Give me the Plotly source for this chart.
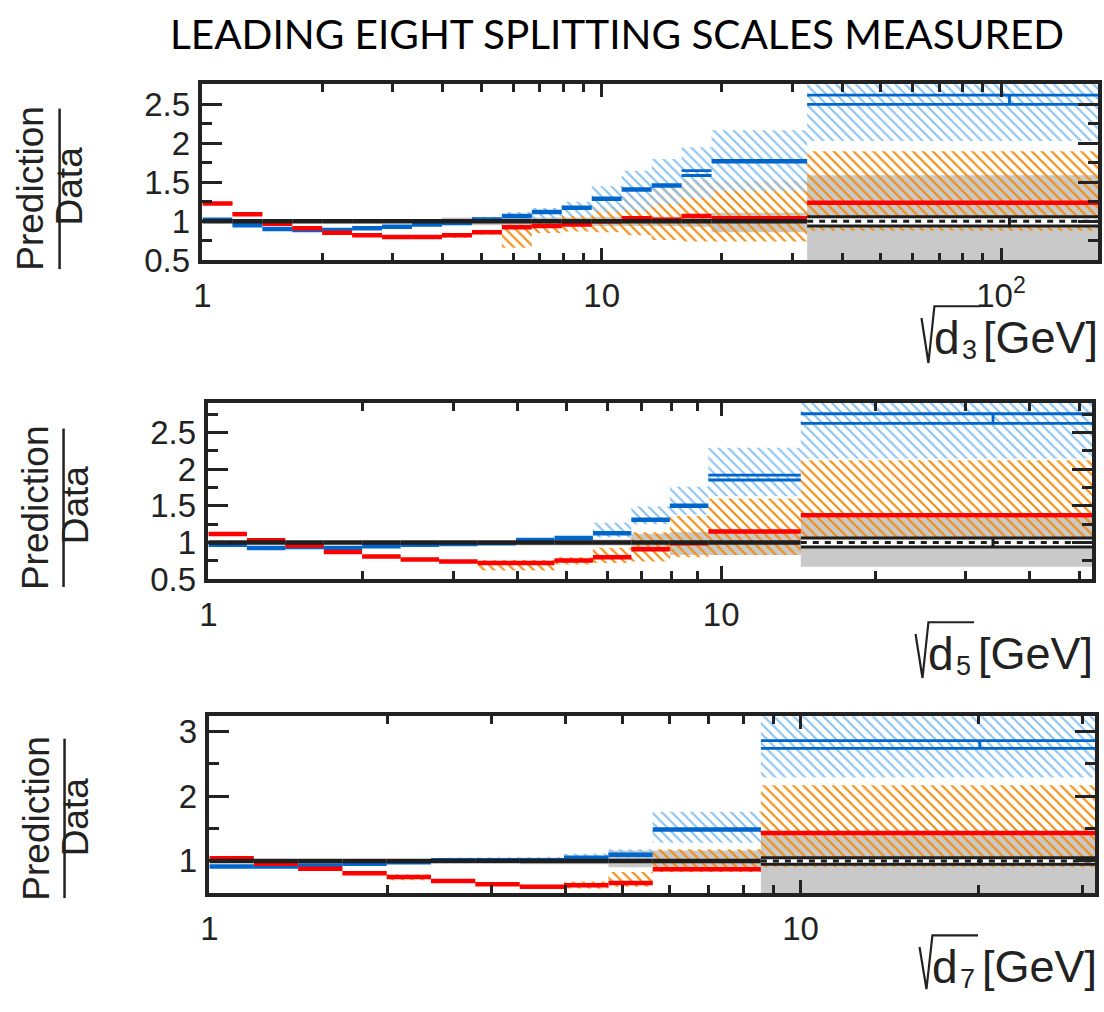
import math
import plotly.graph_objects as go

W, H = 1104, 1012

# ---------------- data ----------------
# Panel 1: sqrt(d3)
d3_edges = [1.000, 1.189, 1.413, 1.679, 1.995, 2.371, 2.818, 3.350, 3.981, 4.732,
            5.623, 6.683, 7.943, 9.441, 11.22, 13.34, 15.85, 18.84, 32.7, 175]
d3_red = [1.23, 1.09, 0.97, 0.91, 0.855, 0.82, 0.80, 0.80, 0.82, 0.86,
          0.925, 0.94, 0.96, 1.00, 1.04, 1.02, 1.07, 1.04, 1.24]
d3_blue = [1.02, 0.95, 0.90, 0.89, 0.89, 0.91, 0.93, 0.96, 0.98, 1.025,
           1.07, 1.12, 1.175, 1.29, 1.41, 1.46, 1.62, 1.77, 2.56]
d3_blue_err = [0, 0, 0, 0, 0, 0, 0, 0, 0, 0, 0, 0, 0, 0, 0, 0, 0.032, 0, 0.06]
d3_data = [1.0] * 19
d3_gray_lo = [0.985, 0.985, 0.985, 0.985, 0.985, 0.985, 0.985, 0.98, 0.95, 0.95,
              0.95, 0.95, 0.95, 0.94, 0.94, 0.94, 0.93, 0.86, 0.40]
d3_gray_hi = [1.015, 1.015, 1.015, 1.015, 1.015, 1.015, 1.015, 1.02, 1.05, 1.05,
              1.05, 1.05, 1.05, 1.06, 1.06, 1.06, 1.07, 1.11, 1.59]
d3_orange_lo = [1.21, 1.07, 0.95, 0.89, 0.835, 0.80, 0.78, 0.78, 0.79, 0.83,
                0.66, 0.85, 0.87, 0.86, 0.82, 0.76, 0.74, 0.74, 0.88]
d3_orange_hi = [1.25, 1.11, 0.99, 0.93, 0.875, 0.84, 0.82, 0.82, 0.85, 0.89,
                0.96, 1.04, 1.07, 1.19, 1.33, 1.43, 1.53, 1.52, 1.90]
d3_lblue_lo = [1.00, 0.93, 0.88, 0.87, 0.87, 0.89, 0.91, 0.94, 0.96, 0.98,
               1.00, 1.03, 1.07, 1.12, 1.14, 1.22, 1.30, 1.39, 2.03]
d3_lblue_hi = [1.04, 0.97, 0.92, 0.91, 0.91, 0.93, 0.95, 0.98, 1.01, 1.06,
               1.12, 1.17, 1.25, 1.45, 1.65, 1.80, 1.95, 2.17, 2.90]
d3_last_mean = 105.0
d3_data_err = 0.06

# Panel 2: sqrt(d5)
d5_edges = [1.000, 1.189, 1.413, 1.679, 1.995, 2.371, 2.818, 3.350, 3.981, 4.732,
            5.623, 6.683, 7.943, 9.441, 14.3, 52.9]
d5_red = [1.115, 1.03, 0.96, 0.87, 0.81, 0.77, 0.74, 0.72, 0.72, 0.755,
          0.80, 0.907, 0.99, 1.15, 1.37]
d5_blue = [0.97, 0.925, 0.94, 0.925, 0.95, 0.97, 0.98, 0.99, 1.035, 1.06,
           1.125, 1.31, 1.50, 1.885, 2.69]
d5_blue_err = [0, 0, 0, 0, 0, 0, 0, 0, 0, 0, 0, 0, 0, 0.033, 0.065]
d5_data = [1.0] * 15
d5_gray_lo = [0.985, 0.985, 0.985, 0.985, 0.985, 0.985, 0.985, 0.98, 0.96, 0.96,
              0.96, 0.89, 0.83, 0.83, 0.67]
d5_gray_hi = [1.015, 1.015, 1.015, 1.015, 1.015, 1.015, 1.015, 1.02, 1.04, 1.04,
              1.04, 1.12, 1.14, 1.14, 1.34]
d5_orange_lo = [1.095, 1.01, 0.94, 0.85, 0.79, 0.75, 0.72, 0.62, 0.62, 0.70,
                0.72, 0.74, 0.80, 0.83, 0.98]
d5_orange_hi = [1.135, 1.05, 0.98, 0.89, 0.83, 0.79, 0.76, 0.76, 0.76, 0.80,
                0.93, 1.14, 1.36, 1.60, 2.12]
d5_lblue_lo = [0.95, 0.905, 0.92, 0.905, 0.93, 0.95, 0.96, 0.97, 0.98, 1.00,
               1.07, 1.25, 1.38, 1.63, 2.14]
d5_lblue_hi = [0.99, 0.945, 0.96, 0.945, 0.97, 0.99, 1.00, 1.02, 1.05, 1.08,
               1.27, 1.49, 1.76, 2.29, 3.00]
d5_last_mean = 33.9
d5_data_err = 0.06

# Panel 3: sqrt(d7)
d7_edges = [1.000, 1.189, 1.413, 1.679, 1.995, 2.371, 2.818, 3.350, 3.981, 4.732,
            5.623, 8.57, 31.5]
d7_red = [1.04, 0.955, 0.88, 0.81, 0.75, 0.69, 0.64, 0.60, 0.625, 0.66, 0.87, 1.43]
d7_blue = [0.915, 0.915, 0.93, 0.955, 0.98, 1.01, 1.01, 1.01, 1.05, 1.095, 1.485, 2.80]
d7_blue_err = [0, 0, 0, 0, 0, 0, 0, 0, 0, 0, 0, 0.06]
d7_data = [1.0] * 12
d7_gray_lo = [0.985, 0.985, 0.985, 0.985, 0.985, 0.985, 0.985, 0.95, 0.95, 0.90, 0.90, 0.30]
d7_gray_hi = [1.015, 1.015, 1.015, 1.015, 1.015, 1.015, 1.015, 1.05, 1.05, 1.16, 1.16, 1.41]
d7_orange_lo = [1.02, 0.935, 0.86, 0.79, 0.70, 0.67, 0.62, 0.58, 0.57, 0.60, 0.83, 0.90]
d7_orange_hi = [1.06, 0.975, 0.90, 0.83, 0.79, 0.71, 0.66, 0.62, 0.68, 0.83, 1.18, 2.17]
d7_lblue_lo = [0.895, 0.895, 0.91, 0.935, 0.96, 0.97, 0.97, 0.97, 0.99, 1.02, 1.28, 2.29]
d7_lblue_hi = [0.935, 0.935, 0.95, 0.975, 1.00, 1.05, 1.05, 1.06, 1.11, 1.18, 1.76, 3.30]
d7_last_mean = 20.1
d7_data_err = 0.05

x_var = ["d", "d", "d"]
x_sub = ["3", "5", "7"]
x_unit = "[GeV]"
y_num = "Prediction"
y_den = "Data"
title_text = "LEADING EIGHT SPLITTING SCALES MEASURED"

# ---------------- styling / layout (pixels) ----------------
RED = "#ff0000"
BLUE = "#0066cc"
BLACK = "#1e1e1e"
GRAY = "#c9c9c9"
ORANGE = "#f28c0f"
LBLUE = "#8cc2ef"
INK = "#222222"
FONT = "Liberation Sans, Arial, sans-serif"


def px(x):
    return x / W


def py(y):
    return 1 - y / H


panels = [
    dict(edges=d3_edges, red=d3_red, blue=d3_blue, berr=d3_blue_err, data=d3_data,
         glo=d3_gray_lo, ghi=d3_gray_hi, olo=d3_orange_lo, ohi=d3_orange_hi,
         llo=d3_lblue_lo, lhi=d3_lblue_hi, mean=d3_last_mean, derr=d3_data_err,
         box=(195, 1098, 83, 263), yr=[0.5, 2.76],
         ytv=[0.5, 1, 1.5, 2, 2.5], ytt=["0.5", "1", "1.5", "2", "2.5"],
         ymin=[0.75, 1.25, 1.75, 2.25, 2.75],
         xtv=[1, 10, 100], xtt=["1", "10", "10<sup>2</sup>"],
         xmin=[2, 3, 4, 5, 6, 7, 8, 9, 20, 30, 40, 50, 60, 70, 80, 90],
         lab=dict(pred=(22, 189), data=(61, 187), line=(51, 108, 272)),
         xt=dict(d=932, sub=960, right=1099, yc=342,
                 rad=[(920, 322), (927, 368), (933, 310), (979, 310)])),
    dict(edges=d5_edges, red=d5_red, blue=d5_blue, berr=d5_blue_err, data=d5_data,
         glo=d5_gray_lo, ghi=d5_gray_hi, olo=d5_orange_lo, ohi=d5_orange_hi,
         llo=d5_lblue_lo, lhi=d5_lblue_hi, mean=d5_last_mean, derr=d5_data_err,
         box=(201, 1092, 409, 589), yr=[0.5, 2.9],
         ytv=[0.5, 1, 1.5, 2, 2.5], ytt=["0.5", "1", "1.5", "2", "2.5"],
         ymin=[0.75, 1.25, 1.75, 2.25, 2.75],
         xtv=[1, 10], xtt=["1", "10"],
         xmin=[2, 3, 4, 5, 6, 7, 8, 9, 20, 30, 40, 50],
         lab=dict(pred=(27.5, 516), data=(67, 513), line=(55, 435, 597)),
         xt=dict(d=926, sub=954, right=1094, yc=665,
                 rad=[(914, 645), (921, 690), (927, 633), (973, 633)])),
    dict(edges=d7_edges, red=d7_red, blue=d7_blue, berr=d7_blue_err, data=d7_data,
         glo=d7_gray_lo, ghi=d7_gray_hi, olo=d7_orange_lo, ohi=d7_orange_hi,
         llo=d7_lblue_lo, lhi=d7_lblue_hi, mean=d7_last_mean, derr=d7_data_err,
         box=(202, 1095, 729, 910), yr=[0.5, 3.24],
         ytv=[1, 2, 3], ytt=["1", "2", "3"],
         ymin=[1.5, 2.5],
         xtv=[1, 10], xtt=["1", "10"],
         xmin=[2, 3, 4, 5, 6, 7, 8, 9, 20, 30],
         lab=dict(pred=(28, 833), data=(67, 832), line=(56, 752, 915)),
         xt=dict(d=930, sub=958, right=1098, yc=985,
                 rad=[(918, 965), (925, 1008), (931, 953), (977, 953)])),
]


def steps(edges, vals, skip=None):
    xs, ys = [], []
    for i, v in enumerate(vals):
        if skip is not None and skip[i]:
            continue
        xs += [edges[i], edges[i + 1], None]
        ys += [v, v, None]
    return xs, ys


def band(edges, lo, hi):
    xs, ys = [], []
    for i in range(len(hi)):
        xs += [edges[i], edges[i + 1]]
        ys += [hi[i], hi[i]]
    for i in reversed(range(len(lo))):
        xs += [edges[i + 1], edges[i]]
        ys += [lo[i], lo[i]]
    xs.append(xs[0])
    ys.append(ys[0])
    return xs, ys


fig = go.Figure()
annotations = []
shapes = []
layout_axes = {}

for k, p in enumerate(panels):
    n = k + 1
    xa = "x" if n == 1 else f"x{n}"
    ya = "y" if n == 1 else f"y{n}"
    e = p["edges"]
    nb = len(p["red"])

    def add(tr):
        tr.update(xaxis=xa, yaxis=ya, showlegend=False, hoverinfo="skip")
        fig.add_trace(tr)

    # gray data-uncertainty band
    bx, by = band(e, p["glo"], p["ghi"])
    add(go.Scatter(x=bx, y=by, mode="lines", line=dict(width=0), fill="toself",
                   fillcolor=GRAY))
    # orange hatched band
    bx, by = band(e, p["olo"], p["ohi"])
    add(go.Scatter(x=bx, y=by, mode="lines", line=dict(width=0), fill="toself",
                   fillcolor="rgba(0,0,0,0)",
                   fillpattern=dict(shape="\\", size=7, solidity=0.3, fgcolor=ORANGE,
                                    bgcolor="rgba(0,0,0,0)", fillmode="replace")))
    # light-blue hatched band
    bx, by = band(e, p["llo"], p["lhi"])
    add(go.Scatter(x=bx, y=by, mode="lines", line=dict(width=0), fill="toself",
                   fillcolor="rgba(0,0,0,0)",
                   fillpattern=dict(shape="\\", size=7, solidity=0.3, fgcolor=LBLUE,
                                    bgcolor="rgba(0,0,0,0)", fillmode="replace")))

    # blue prediction (thick), with double lines where stat error is visible
    skip = [err > 0 for err in p["berr"]]
    sx, sy = steps(e, p["blue"], skip)
    add(go.Scatter(x=sx, y=sy, mode="lines", line=dict(color=BLUE, width=4.5)))
    dx, dy = [], []
    for i in range(nb):
        if skip[i]:
            for s in (1, -1):
                dx += [e[i], e[i + 1], None]
                dy += [p["blue"][i] + s * p["berr"][i]] * 2 + [None]
    i = nb - 1
    dx += [p["mean"], p["mean"], None]
    dy += [p["blue"][i] - p["berr"][i], p["blue"][i] + p["berr"][i], None]
    add(go.Scatter(x=dx, y=dy, mode="lines", line=dict(color=BLUE, width=2.8)))

    # red prediction
    sx, sy = steps(e, p["red"])
    add(go.Scatter(x=sx, y=sy, mode="lines", line=dict(color=RED, width=4.5)))

    # data (ratio = 1), thick line except the last bin drawn as a box
    dskip = [False] * (nb - 1) + [True]
    sx, sy = steps(e, p["data"], dskip)
    add(go.Scatter(x=sx, y=sy, mode="lines", line=dict(color=BLACK, width=4.5)))
    lo = p["data"][-1] - p["derr"]
    hi = p["data"][-1] + p["derr"]
    add(go.Scatter(x=[e[-2], e[-1], e[-1], e[-2], e[-2]], y=[lo, lo, hi, hi, lo],
                   mode="lines", line=dict(width=0), fill="toself", fillcolor="white"))
    add(go.Scatter(x=[e[-2], e[-1], None, e[-2], e[-1], None, p["mean"], p["mean"]],
                   y=[lo, lo, None, hi, hi, None, lo, hi],
                   mode="lines", line=dict(color=BLACK, width=3)))
    add(go.Scatter(x=[e[-2], e[-1]], y=[p["data"][-1]] * 2, mode="lines",
                   line=dict(color=BLACK, width=3, dash="6px,6px")))

    x0, x1, y0, y1 = p["box"]
    xr = [0, math.log10(e[-1])]
    common = dict(showline=True, linecolor=INK, linewidth=3.5, mirror="allticks",
                  ticks="inside", tickcolor=INK, showgrid=False, zeroline=False,
                  tickfont=dict(family=FONT, size=33, color=INK))
    layout_axes["xaxis" if n == 1 else f"xaxis{n}"] = dict(
        common, type="log", range=xr, domain=[px(x0), px(x1)],
        anchor=ya, tickmode="array", tickvals=p["xtv"], ticktext=p["xtt"],
        ticklen=13, tickwidth=3, ticklabelstandoff=3,
        minor=dict(tickmode="array", tickvals=p["xmin"], ticks="inside", ticklen=8,
                   tickwidth=2.5, tickcolor=INK))
    layout_axes["yaxis" if n == 1 else f"yaxis{n}"] = dict(
        common, range=p["yr"], domain=[py(y1), py(y0)], anchor=xa,
        tickmode="array", tickvals=p["ytv"], ticktext=p["ytt"],
        ticklen=20, tickwidth=3, ticklabelstandoff=2,
        minor=dict(tickmode="array", tickvals=p["ymin"], ticks="inside", ticklen=10,
                   tickwidth=3, tickcolor=INK))

    # y label: Prediction / Data fraction
    lab = p["lab"]
    annotations.append(dict(text=y_num, x=px(lab["pred"][0]), y=py(lab["pred"][1]),
                            xref="paper", yref="paper", showarrow=False, textangle=-90,
                            xanchor="center", yanchor="middle",
                            font=dict(family=FONT, size=37, color=INK)))
    annotations.append(dict(text=y_den, x=px(lab["data"][0]), y=py(lab["data"][1]),
                            xref="paper", yref="paper", showarrow=False, textangle=-90,
                            xanchor="center", yanchor="middle",
                            font=dict(family=FONT, size=37, color=INK)))
    lx, ly0, ly1 = lab["line"]
    shapes.append(dict(type="line", xref="paper", yref="paper", x0=px(lx), x1=px(lx),
                       y0=py(ly0), y1=py(ly1), line=dict(color=INK, width=2.5)))

    # x title: sqrt(d_n) [GeV]
    xt = p["xt"]
    annotations.append(dict(text=x_var[k], x=px(xt["d"]), y=py(xt["yc"]),
                            xref="paper", yref="paper", showarrow=False,
                            xanchor="left", yanchor="middle", borderpad=0,
                            font=dict(family=FONT, size=46, color=INK)))
    annotations.append(dict(text=x_sub[k], x=px(xt["sub"]), y=py(xt["yc"] + 13),
                            xref="paper", yref="paper", showarrow=False,
                            xanchor="left", yanchor="middle", borderpad=0,
                            font=dict(family=FONT, size=27, color=INK)))
    annotations.append(dict(text=x_unit, x=px(xt["right"]), y=py(xt["yc"]),
                            xref="paper", yref="paper", showarrow=False,
                            xanchor="right", yanchor="middle", borderpad=0,
                            font=dict(family=FONT, size=45, color=INK)))
    path = "M " + " L ".join(f"{px(a):.5f},{py(b):.5f}" for a, b in xt["rad"])
    shapes.append(dict(type="path", xref="paper", yref="paper", path=path,
                       line=dict(color=INK, width=2.2)))

annotations.append(dict(text=title_text, x=px(613), y=py(31), xref="paper", yref="paper",
                        showarrow=False, xanchor="center", yanchor="middle",
                        font=dict(family="Lato, Open Sans, sans-serif", size=40.5,
                                  color="black")))

fig.update_layout(width=W, height=H, margin=dict(l=0, r=0, t=0, b=0),
                  paper_bgcolor="white", plot_bgcolor="white",
                  annotations=annotations, shapes=shapes, **layout_axes)

fig.write_html("out.html")
